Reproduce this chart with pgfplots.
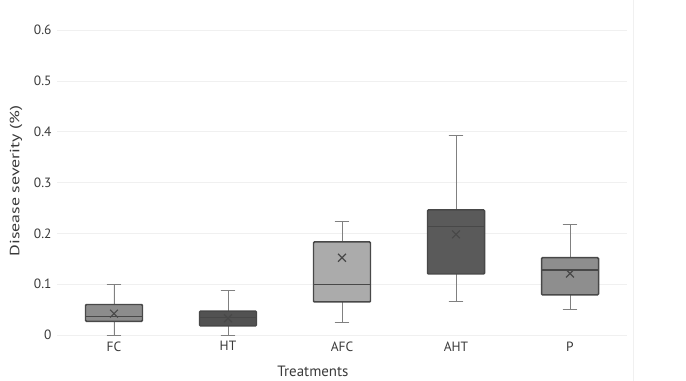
\documentclass[border=0pt]{standalone}
\usepackage{pgfplots}
\pgfplotsset{compat=1.18}
\usepgfplotslibrary{statistics}
\usepackage{fontspec}
\setmainfont{PT Sans}
\definecolor{txt}{HTML}{3A3A3A}
\definecolor{edge}{HTML}{484848}
\definecolor{wh}{HTML}{808080}
\definecolor{cFC}{HTML}{8C8C8C}
\definecolor{cHT}{HTML}{525252}
\definecolor{cAFC}{HTML}{ABABAB}
\definecolor{cAHT}{HTML}{5A5A5A}
\definecolor{cP}{HTML}{8E8E8E}
\begin{document}
\begin{tikzpicture}
\path[use as bounding box] (-57bp,-46bp) rectangle (629bp,335bp);
\begin{axis}[
  at={(0bp,0bp)}, anchor=south west,
  scale only axis, width=570bp, height=305bp,
  xmin=-0.5, xmax=4.5, ymin=0, ymax=0.6,
  xtick={0,1,2,3,4}, xticklabels={FC,HT,AFC,AHT,P},
  ytick={0,0.1,0.2,0.3,0.4,0.5,0.6},
  yticklabels={0,0.1,0.2,0.3,0.4,0.5,0.6},
  axis line style={draw=none},
  major tick length=0pt,
  ymajorgrids, grid style={draw=black!6, line width=0.6pt},
  tick label style={font=\fontsize{13.5}{14}\selectfont, text=txt},
  yticklabel style={xshift=-2bp},
  xticklabel style={yshift=-3bp},
  ylabel={Disease severity (\%)},
  ylabel style={font=\fontsize{13.5}{15}\selectfont, text=txt, at={(axis description cs:-0.072,0.505)}, anchor=center, xscale=1.33},
  xlabel={Treatments},
  xlabel style={font=\fontsize{15}{16}\selectfont, text=txt, at={(axis description cs:0.449,0)}, anchor=center, yshift=-36bp},
  clip=false,
  boxplot/draw direction=y,
  boxplot/box extend=0.5,
  boxplot/whisker extend=0.13,
  boxplot/every box/.style={draw=edge, line width=1.5pt, rounded corners=1pt},
  boxplot/every whisker/.style={draw=wh, line width=1pt},
  boxplot/every median/.style={draw=edge, line width=1.2pt},
]
\addplot[fill=cFC, boxplot prepared={draw position=0, lower whisker=0, lower quartile=0.027, median=0.037, upper quartile=0.060, upper whisker=0.100}] coordinates {};
\addplot[fill=cHT, boxplot prepared={draw position=1, lower whisker=0, lower quartile=0.018, median=0.034, upper quartile=0.047, upper whisker=0.087}] coordinates {};
\addplot[fill=cAFC, boxplot prepared={draw position=2, lower whisker=0.024, lower quartile=0.065, median=0.099, upper quartile=0.183, upper whisker=0.223}] coordinates {};
\addplot[fill=cAHT, boxplot prepared={draw position=3, lower whisker=0.065, lower quartile=0.120, median=0.213, upper quartile=0.246, upper whisker=0.392}] coordinates {};
\addplot[fill=cP, boxplot prepared={draw position=4, lower whisker=0.050, lower quartile=0.079, median=0.128, upper quartile=0.152, upper whisker=0.217}] coordinates {};
\addplot[only marks, mark=x, mark size=5.5bp, draw=edge, line width=1.2pt] coordinates {(0,0.042) (1,0.033) (2,0.152) (3,0.198) (4,0.121)};
\end{axis}
\draw[black!6, line width=1pt] (576bp,-46bp) -- (576bp,335bp);
\end{tikzpicture}
\end{document}
